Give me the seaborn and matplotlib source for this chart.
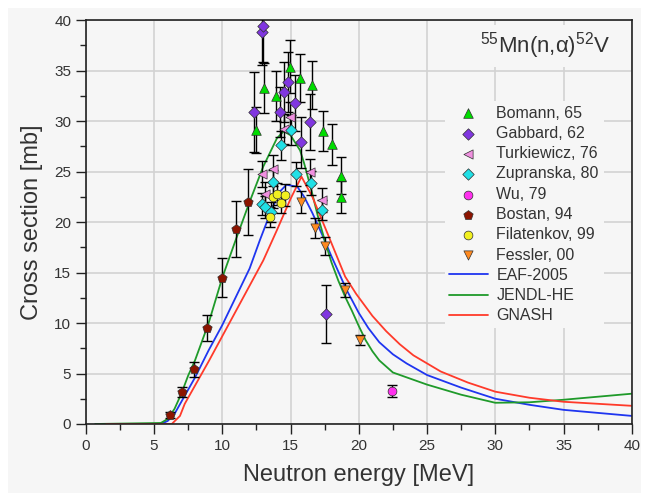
import matplotlib
matplotlib.use('Agg')
import pandas as pd
import seaborn as sns
from matplotlib import pyplot as plt
from matplotlib.ticker import MultipleLocator
from matplotlib.patches import Rectangle

# ---------------- evaluated curves ----------------
eaf_e = [0.7, 5.5, 6.0, 6.5, 7.0, 7.5, 8.0, 9.0, 10.0, 11.0, 12.0, 12.75, 13.6, 14.2, 14.7, 15.5, 16.0,
         16.6, 17.4, 18.0, 19.1, 20.0, 20.7, 21.5, 22.5, 23.5, 25.0, 27.5, 30.0, 32.5, 35.0, 40.0]
eaf_xs = [0, 0, 0.3, 1.0, 2.2, 3.4, 4.6, 7.3, 9.8, 12.6, 15.4, 18.2, 21.2, 23.0, 23.7, 23.5, 22.5,
          20.9, 18.5, 16.6, 13.3, 11.0, 9.5, 8.1, 6.9, 6.0, 4.85, 3.6, 2.5, 1.9, 1.4, 0.8]

jendl_e = [0.7, 5.5, 6.0, 6.5, 7.0, 7.5, 8.0, 9.0, 10.0, 11.0, 12.0, 13.0, 14.0, 14.5, 15.0, 15.7, 16.0,
           16.5, 17.0, 17.5, 18.0, 18.5, 19.0, 19.5, 20.0, 20.5, 21.0, 21.5, 22.5, 25.0, 27.5, 30.0,
           32.5, 35.0, 40.0]
jendl_xs = [0, 0.1, 0.5, 1.5, 3.0, 4.8, 6.3, 10.0, 14.5, 18.3, 22.0, 25.5, 28.3, 29.0, 28.6, 27.1, 25.8,
            23.3, 20.6, 18.2, 16.0, 14.2, 12.6, 11.2, 9.7, 8.3, 7.2, 6.3, 5.1, 3.9, 2.9, 2.1,
            2.15, 2.4, 3.0]

gnash_e = [1.5, 6.3, 6.9, 7.25, 8.0, 9.0, 10.0, 11.0, 12.0, 13.0, 14.0, 15.0, 15.8, 16.6, 17.7, 19.0,
           19.8, 21.0, 22.0, 23.0, 24.0, 25.0, 26.0, 28.0, 30.0, 32.5, 35.0, 40.0]
gnash_xs = [0, 0, 0.8, 2.0, 3.8, 6.2, 8.7, 11.2, 13.7, 16.2, 19.2, 22.3, 24.5, 22.5, 18.9, 14.6,
            12.9, 10.7, 9.2, 7.9, 6.8, 6.0, 5.2, 4.1, 3.2, 2.6, 2.2, 1.8]

# ---------------- experimental data (E [MeV], sigma [mb], error) ----------------
bomann_e = [12.5, 13.06, 13.9, 14.95, 15.7, 16.6, 17.4, 18.0, 18.7, 18.7]
bomann_xs = [29.1, 33.3, 32.5, 35.4, 34.3, 33.6, 29.0, 27.7, 24.6, 22.5]
bomann_err = [2.3, 2.5, 2.5, 2.6, 2.4, 2.4, 2.0, 2.0, 1.8, 1.6]

gabbard_e = [12.3, 12.9, 13.0, 14.2, 14.5, 14.8, 15.3, 15.8, 16.4, 17.6]
gabbard_xs = [30.9, 38.8, 39.4, 30.9, 32.9, 33.9, 31.8, 27.9, 29.9, 10.9]
gabbard_err = [4.0, 3.2, 3.5, 2.5, 3.0, 3.0, 2.8, 2.5, 2.8, 2.9]

turk_e = [12.9, 13.1, 13.7, 14.5, 14.95, 16.4, 17.3]
turk_xs = [24.8, 22.8, 25.3, 29.2, 30.4, 25.0, 22.2]
turk_err = [1.3, 1.2, 1.3, 1.5, 1.5, 1.3, 1.2]

zupr_e = [12.9, 13.1, 13.6, 13.7, 14.3, 15.0, 15.4, 16.5, 17.3]
zupr_xs = [21.8, 21.5, 21.0, 24.0, 27.6, 29.1, 24.8, 23.9, 21.2]
zupr_err = [1.1, 1.1, 1.0, 1.2, 1.4, 1.5, 1.2, 1.2, 1.0]

wu_e = [22.4]
wu_xs = [3.3]
wu_err = [0.6]

bostan_e = [6.15, 7.06, 7.9, 8.9, 9.97, 11.0, 11.9]
bostan_xs = [0.9, 3.2, 5.4, 9.5, 14.5, 19.3, 22.0]
bostan_err = [0.3, 0.5, 0.7, 1.3, 1.9, 2.8, 3.3]

filat_e = [13.5, 13.7, 14.0, 14.3, 14.6]
filat_xs = [20.5, 22.5, 22.8, 21.9, 22.7]
filat_err = [1.0, 1.1, 1.1, 1.0, 1.1]

fessler_e = [15.8, 16.8, 17.5, 19.0, 20.1]
fessler_xs = [22.0, 19.4, 17.6, 13.3, 8.3]
fessler_err = [1.1, 1.0, 0.9, 0.7, 0.5]

exp_sets = [
    ('Bomann, 65', bomann_e, bomann_xs, bomann_err, '^', '#00dd00', 48),
    ('Gabbard, 62', gabbard_e, gabbard_xs, gabbard_err, 'D', '#8036e0', 34),
    ('Turkiewicz, 76', turk_e, turk_xs, turk_err, '<', '#f090e0', 44),
    ('Zupranska, 80', zupr_e, zupr_xs, zupr_err, 'D', '#20e0e6', 34),
    ('Wu, 79', wu_e, wu_xs, wu_err, 'o', '#ff30ee', 40),
    ('Bostan, 94', bostan_e, bostan_xs, bostan_err, 'p', '#8c1400', 50),
    ('Filatenkov, 99', filat_e, filat_xs, filat_err, 'o', '#f2f020', 40),
    ('Fessler, 00', fessler_e, fessler_xs, fessler_err, 'v', '#ff8a20', 44),
]

line_colors = {'EAF-2005': '#1f35f0', 'JENDL-HE': '#1f9a2a', 'GNASH': '#ff3a2a'}

bg = '#f6f6f6'
sns.set_theme(style='ticks')
plt.rcParams['font.family'] = ['Liberation Sans', 'DejaVu Sans']
plt.rcParams['mathtext.fontset'] = 'custom'
plt.rcParams['mathtext.rm'] = 'Liberation Sans'
plt.rcParams['mathtext.it'] = 'Liberation Sans:italic'

fig = plt.figure(figsize=(6.5, 4.93), dpi=100)
fig.patch.set_facecolor('white')
fig.patches.append(Rectangle((8 / 650, 0), 633 / 650, 485 / 493, transform=fig.transFigure,
                             facecolor=bg, edgecolor='none', zorder=-10))
ax = fig.add_axes([0.132, 0.140, 0.840, 0.819])
ax.set_facecolor(bg)

# curves
curves = pd.concat([
    pd.DataFrame({'E': eaf_e, 'xs': eaf_xs, 'lib': 'EAF-2005'}),
    pd.DataFrame({'E': jendl_e, 'xs': jendl_xs, 'lib': 'JENDL-HE'}),
    pd.DataFrame({'E': gnash_e, 'xs': gnash_xs, 'lib': 'GNASH'}),
], ignore_index=True)
sns.lineplot(data=curves, x='E', y='xs', hue='lib', palette=line_colors, estimator=None,
             sort=False, lw=1.3, ax=ax, zorder=2)

# experimental points with error bars
for name, e, xs, err, mk, col, size in exp_sets:
    ax.errorbar(e, xs, yerr=err, fmt='none', ecolor='black', elinewidth=1.0,
                capsize=3.5, capthick=1.0, zorder=3)
    sns.scatterplot(x=e, y=xs, marker=mk, color=col, s=size, edgecolor='#303030',
                    linewidth=0.5, ax=ax, label=name, zorder=4)

ax.set_xlim(0, 40)
ax.set_ylim(0, 40)
ax.xaxis.set_major_locator(MultipleLocator(5))
ax.yaxis.set_major_locator(MultipleLocator(5))
ax.xaxis.set_minor_locator(MultipleLocator(2.5))
ax.yaxis.set_minor_locator(MultipleLocator(2.5))
ax.tick_params(which='major', direction='out', length=7, width=1.0, labelsize=11,
               labelcolor='#333333', color='#222222')
ax.tick_params(which='minor', direction='out', length=4, width=1.0, color='#222222')
ax.grid(True, which='major', color='#d3d3d3', lw=1.2)
ax.set_axisbelow(True)
for sp in ax.spines.values():
    sp.set_visible(True)
    sp.set_color('#222222')
    sp.set_linewidth(1.2)

ax.set_xlabel('Neutron energy [MeV]', fontsize=17, color='#333333', labelpad=8)
ax.set_ylabel('Cross section [mb]', fontsize=17, color='#333333', labelpad=8)

ax.text(0.96, 0.975, r'$^{55}$Mn(n,α)$^{52}$V', transform=ax.transAxes, ha='right', va='top',
        fontsize=16, color='#333333',
        bbox=dict(facecolor=bg, edgecolor='none', pad=4), zorder=5)

# legend: points first, then curves
handles, labels = ax.get_legend_handles_labels()
order = [s[0] for s in exp_sets] + list(line_colors.keys())
hmap = dict(zip(labels, handles))
leg = ax.legend([hmap[l] for l in order], order, loc='upper right', bbox_to_anchor=(0.963, 0.82),
                frameon=True, facecolor=bg, edgecolor='none', framealpha=1, fontsize=11.5,
                labelspacing=0.33, handlelength=2.4, handletextpad=0.55, borderpad=0.3,
                scatterpoints=1)
for t in leg.get_texts():
    t.set_color('#333333')

fig.savefig('out.png', dpi=100, facecolor=fig.get_facecolor())
